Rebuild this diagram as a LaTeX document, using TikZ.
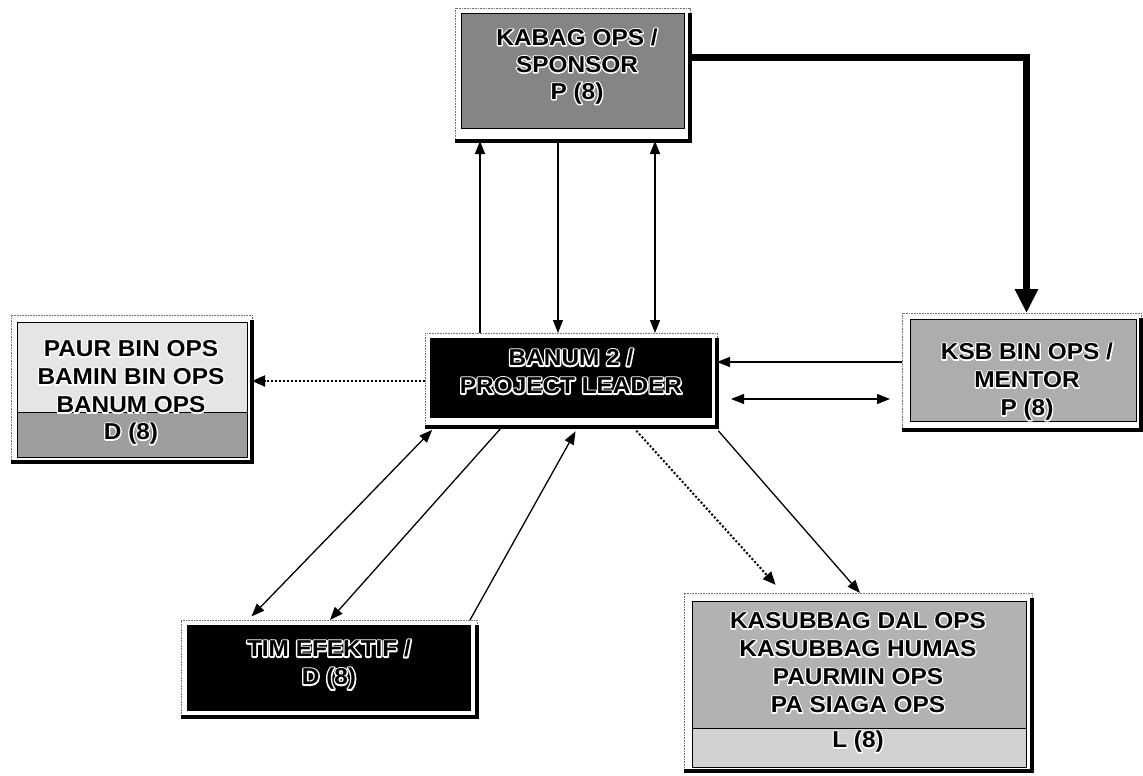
\documentclass[tikz,border=0pt]{standalone}
\usepackage{fontspec}
\setmainfont{Liberation Sans}
\newfontfamily\boxfont{Liberation Sans}[FakeStretch=1.06]
\usetikzlibrary{arrows.meta}
% black letters with a white rim: a white stroked copy under the black text
\newsavebox\haloboxA
\newsavebox\haloboxB
\newcommand\haloed[2][2.6]{%
  \sbox\haloboxA{\special{pdf:literal direct 1 Tr #1 w 1 J 1 j 1 1 1 RG}\begin{tabular}{@{}c@{}}#2\end{tabular}\special{pdf:literal direct 0 Tr 0 0 0 RG}}%
  \sbox\haloboxB{\begin{tabular}{@{}c@{}}#2\end{tabular}}%
  \rlap{\copy\haloboxA}\copy\haloboxB}
\begin{document}
\begin{tikzpicture}[x=1pt,y=-1pt,
  frame/.style={draw=black!55, dash pattern=on 0.8pt off 0.8pt, line width=0.6pt, fill=white, inner sep=0pt, outer sep=0pt},
  inbox/.style={draw=black, line width=1pt},
  edge3d/.style={draw=black, line width=3.5pt},
  txt/.style={font=\boxfont\bfseries\fontsize{23}{28}\selectfont, inner sep=0pt},
  arr/.style={line width=1.3pt, -{Triangle[length=13pt,width=10pt]}},
  darr/.style={line width=1.3pt, {Triangle[length=13pt,width=10pt]}-{Triangle[length=13pt,width=10pt]}},
  dotarr/.style={line width=2pt, dash pattern=on 2pt off 2pt, -{Triangle[length=13pt,width=11pt]}},
  bigarr/.style={line width=7pt, line join=miter, -{Triangle[length=24pt,width=22pt]}}
]
\useasboundingbox (0,0) rectangle (1143,776);

% reference coordinates
\foreach \xx in {248,330,435,470,480,502,558,578,633,655,715,783,860}{\coordinate (c\xx) at (\xx,0);}
\foreach \yy in {58,362,381,399}{\coordinate (y\yy) at (0,\yy);}

% ---------- KABAG OPS ----------
\node[frame, minimum width=235pt, minimum height=133pt] (kabag) at (572.5,74.5) {};
\draw[inbox, fill=black!48] (461,14) rectangle (684,128);
\draw[edge3d] ([yshift=-5pt]kabag.north east) -- (kabag.south east) -- (kabag.south west);
\node[txt, font=\boxfont\bfseries\fontsize{23}{27}\selectfont] (kabagt) at (577,67) {\haloed{KABAG OPS /\\SPONSOR\\P (8)}};

% ---------- PAUR BIN OPS ----------
\node[frame, minimum width=241pt, minimum height=147pt] (paur) at (131.5,388.5) {};
\draw[inbox, fill=black!10] (17,322) rectangle (247,457);
\draw[inbox, fill=black!38] (17,412) rectangle (247,457);
\draw[edge3d] ([yshift=-5pt]paur.north east) -- (paur.south east) -- (paur.south west);
\node[txt] (paurt) at (131,379) {\haloed{PAUR BIN OPS\\BAMIN BIN OPS\\BANUM OPS}};
\node[txt] (paurd) at (131,434) {\haloed{D (8)}};

% ---------- BANUM 2 ----------
\node[frame, minimum width=292pt, minimum height=94pt] (banum) at (571,380) {};
\fill[black] (430,338) rectangle (712,418);
\draw[edge3d] ([yshift=-5pt]banum.north east) -- (banum.south east) -- (banum.south west);
\node[txt] (banumt) at (571,374) {\haloed[3]{BANUM 2 /\\PROJECT LEADER}};

% ---------- KSB BIN OPS ----------
\node[frame, minimum width=239pt, minimum height=117pt] (ksb) at (1021.5,371.5) {};
\draw[inbox, fill=black!32] (910,319) rectangle (1136,421);
\draw[edge3d] ([yshift=-5pt]ksb.north east) -- (ksb.south east) -- (ksb.south west);
\node[txt] (ksbt) at (1027,382) {\haloed{KSB BIN OPS /\\MENTOR\\P (8)}};

% ---------- TIM EFEKTIF ----------
\node[frame, minimum width=296pt, minimum height=97pt] (tim) at (329,668.5) {};
\fill[black] (187,625) rectangle (471,711);
\draw[edge3d] ([yshift=-5pt]tim.north east) -- (tim.south east) -- (tim.south west);
\node[txt] (timt) at (329,665) {\haloed[3]{TIM EFEKTIF /\\D (8)}};

% ---------- KASUBBAG ----------
\node[frame, minimum width=348pt, minimum height=178pt] (kas) at (858,682) {};
\draw[inbox, fill=black!30] (692,601) rectangle (1026,767);
\draw[inbox, fill=black!18] (692,728) rectangle (1026,767);
\draw[edge3d] ([yshift=-5pt]kas.north east) -- (kas.south east) -- (kas.south west);
\node[txt] (kast) at (858,665) {\haloed{KASUBBAG DAL OPS\\KASUBBAG HUMAS\\PAURMIN OPS\\PA SIAGA OPS}};
\node[txt] (kasl) at (858,742) {\haloed{L (8)}};

% ---------- connectors ----------
\draw[arr] (c480 |- banum.north) -- (c480 |- kabag.south);
\draw[arr] (c558 |- kabag.south) -- (c558 |- banum.north);
\draw[darr] (c655 |- kabag.south) -- (c655 |- banum.north);
\draw[bigarr] (kabag.east |- y58) -| ([xshift=5pt]ksb.north);
\draw[arr] (ksb.west |- y362) -- (banum.east |- y362);
\draw[darr, shorten <=14pt, shorten >=12pt] (banum.east |- y399) -- (ksb.west |- y399);
\draw[dotarr] (banum.west |- y381) -- (paur.east |- y381);
\draw[darr, shorten <=5pt, shorten >=4pt] (c248 |- tim.north) -- (c435 |- banum.south);
\draw[arr] (c502 |- banum.south) -- (c330 |- tim.north);
\draw[arr, shorten >=5pt] (c470 |- tim.north) -- (c578 |- banum.south);
\draw[dotarr, shorten <=5pt, shorten >=11pt] (c633 |- banum.south) -- (c783 |- kas.north);
\draw[arr, shorten <=5pt] (c715 |- banum.south) -- (c860 |- kas.north);
\end{tikzpicture}
\end{document}
